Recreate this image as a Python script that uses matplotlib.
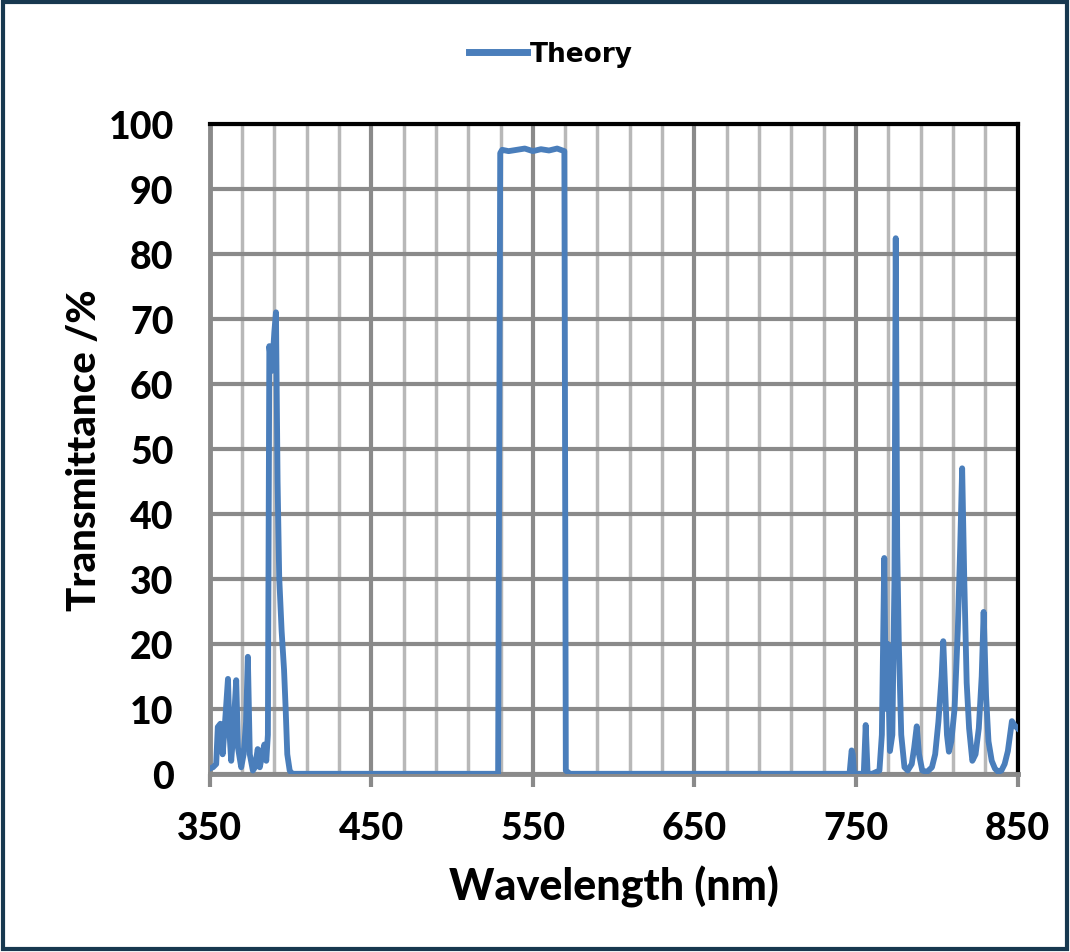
import numpy as np
import matplotlib
matplotlib.use('Agg')
import matplotlib.pyplot as plt
from matplotlib.patches import Rectangle

# ---- data (nm, %)
wl_blue = [350, 352, 354, 355, 356.6, 358, 359.5, 361.3, 362.3, 363.3, 364.5, 366.4, 367.5, 369.5,
           371, 372.5, 373.6, 374.8, 376.7, 378, 379.7, 381, 382.5, 383.8, 385, 386, 386.9, 388.5,
           390, 391, 392, 393, 394.5, 396, 397, 398, 399.5, 401]
tr_blue = [0.8, 1.0, 1.5, 7.2, 7.7, 3.0, 8.0, 14.6, 6.0, 2.0, 6.0, 14.4, 4.0, 1.0,
           3.0, 8.0, 18.0, 3.0, 0.5, 1.0, 3.8, 1.0, 3.0, 4.5, 2.0, 6.0, 65.8, 62.0,
           68.0, 71.0, 45.0, 30.3, 22.0, 16.0, 10.0, 3.0, 0.5, 0.0]

wl_pass = [403, 528.5, 529.8, 531, 535, 540, 545, 550, 555, 560, 565, 569.5, 570.4, 573]
tr_pass = [0.0, 0.0, 95.5, 96.0, 95.8, 96.0, 96.2, 95.8, 96.1, 95.9, 96.2, 95.8, 0.5, 0.0]

wl_red = [600, 746, 747.3, 748, 748.8, 750, 754.8, 756, 757.2, 760, 764.5, 766, 767.5, 768.5,
          769.5, 771, 772.5, 773.8, 774.6, 775.5, 776.5, 778, 780, 782, 784.5, 786, 787.6, 789,
          791, 794, 797, 799, 801, 803, 804, 805, 806.3, 807.5, 809, 811, 813, 814.5, 815.7,
          817, 818.5, 820, 822, 824, 826, 827.8, 829, 830.5, 832, 834, 836, 838, 840, 842,
          844, 846.5, 848, 850]
tr_red = [0.0, 0.0, 3.6, 3.0, 0.0, 0.0, 0.0, 7.5, 0.0, 0.0, 0.5, 6.0, 33.2, 10.0,
          20.0, 3.5, 6.0, 30.0, 82.4, 35.0, 20.0, 6.0, 1.0, 0.5, 1.5, 4.0, 7.3, 3.0,
          0.5, 0.3, 1.0, 3.0, 8.0, 15.0, 20.4, 14.0, 6.0, 3.4, 5.0, 10.0, 22.0, 35.0, 47.0,
          30.0, 14.0, 7.0, 2.0, 3.0, 7.0, 15.0, 24.9, 12.0, 5.0, 2.0, 0.8, 0.3, 0.5, 1.5,
          3.5, 8.1, 7.5, 7.0]

wavelength = wl_blue + wl_pass + wl_red
transmit = tr_blue + tr_pass + tr_red

x_major = [350, 450, 550, 650, 750, 850]
y_major = list(range(0, 101, 10))

line_col = '#4a7ebb'
font = ['Lato', 'DejaVu Sans']

fig = plt.figure(figsize=(10.7, 9.53), dpi=100)
fig.patch.set_facecolor('white')
ax = fig.add_axes([0.196, 0.187, 0.755, 0.682])

ax.plot(wavelength, transmit, color=line_col, lw=4.2, solid_joinstyle='round',
        label='Theory', zorder=3)

ax.set_xlim(350, 850)
ax.set_ylim(0, 100)
ax.set_xticks(x_major)
ax.set_xticks(np.arange(350, 851, 20), minor=True)
ax.set_yticks(y_major)

ax.grid(which='minor', axis='x', color='#b8b8b8', lw=2.5)
ax.grid(which='major', axis='x', color='#8a8a8a', lw=3)
ax.grid(which='major', axis='y', color='#8a8a8a', lw=3)
ax.set_axisbelow(True)

for s in ['top', 'right']:
    ax.spines[s].set_color('black')
    ax.spines[s].set_linewidth(3)
for s in ['left', 'bottom']:
    ax.spines[s].set_color('#8a8a8a')
    ax.spines[s].set_linewidth(3.5)

ax.tick_params(axis='x', which='major', length=9, width=3, color='#8a8a8a', pad=18)
ax.tick_params(axis='x', which='minor', length=0)
ax.tick_params(axis='y', length=0, pad=26)

for lab in ax.get_xticklabels() + ax.get_yticklabels():
    lab.set_fontfamily(font)
    lab.set_fontweight('black')
    lab.set_fontsize(27)

ax.set_xlabel('Wavelength (nm)', family=font, fontweight='black', fontsize=31, labelpad=14)
ax.set_ylabel('Transmittance /%', family=font, fontweight='black', fontsize=29, labelpad=4)

leg = fig.legend(loc='center', bbox_to_anchor=(0.515, 0.942), frameon=False,
                 handlelength=2.2, handletextpad=0.1,
                 prop={'family': ['Liberation Sans Narrow', 'DejaVu Sans'], 'weight': 'bold', 'size': 19})
for h in leg.legend_handles:
    h.set_linewidth(5)

fig.add_artist(Rectangle((0.003, 0.003), 0.994, 0.994, transform=fig.transFigure,
                         fill=False, edgecolor='#17384f', lw=3))

fig.savefig('out.png', dpi=100)
